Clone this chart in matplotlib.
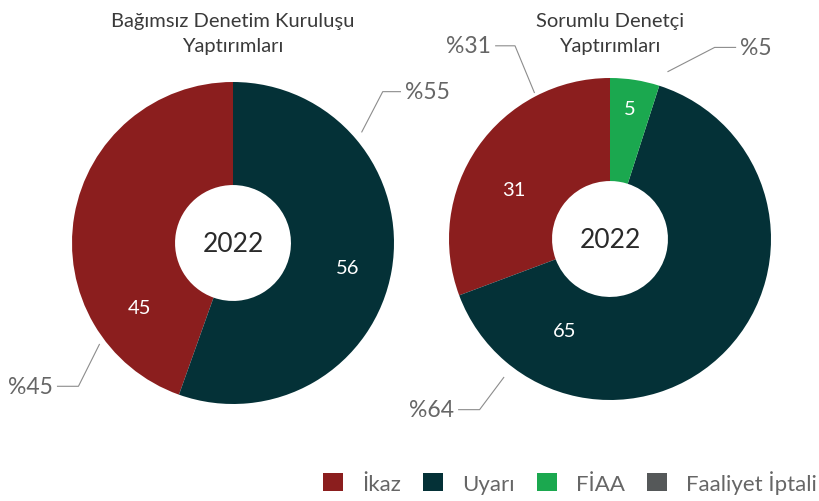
import matplotlib
matplotlib.use("Agg")
import matplotlib.pyplot as plt
from matplotlib.patches import Patch

plt.rcParams['font.family'] = ['Lato', 'DejaVu Sans']

categories = ["İkaz", "Uyarı", "FİAA", "Faaliyet İptali"]
colors = ["#8b1e1e", "#043137", "#1ba84f", "#555859"]

kurulus_values = [45, 56, 0, 0]
denetci_values = [31, 65, 5, 0]
kurulus_pcts = ["%45", "%55"]
denetci_pcts = ["%31", "%64", "%5"]
year = "2022"

W, H = 819, 502
fig = plt.figure(figsize=(W / 100, H / 100), dpi=100)


def donut(cx, cy, r, values, title, pct_labels, pct_spots, val_spots):
    ax = fig.add_axes([(cx - r) / W, (H - cy - r) / H, 2 * r / W, 2 * r / H])
    ax.pie(values, colors=colors, startangle=90, counterclock=True,
           wedgeprops=dict(width=0.64, linewidth=0))
    ax.set_xlim(-1, 1)
    ax.set_ylim(-1, 1)
    ax.set_aspect("equal")
    ax.text(0, 0, year, ha="center", va="center", fontsize=19, color="#2a2a2a")
    # value labels inside the wedges
    shown = [v for v in values if v > 0]
    for v, (x, y) in zip(shown, val_spots):
        ax.text(x, y, str(v), ha="center", va="center", fontsize=14.5, color="white")
    # percentage callouts
    for lab, (anchor, elbow, end, side) in zip(pct_labels, pct_spots):
        ax.plot([anchor[0], elbow[0], end[0]], [anchor[1], elbow[1], end[1]],
                color="#8c8c8c", lw=0.8, clip_on=False)
        tx = end[0] + (0.03 if side == "left" else -0.03)
        ax.text(tx, end[1], lab, ha=side, va="center", fontsize=16.5, color="#666666",
                clip_on=False)
    fig.text(cx / W, 1 - 34 / H, title, ha="center", va="center", fontsize=14.5,
             color="#3a3a3a", linespacing=1.6)


donut(233, 244, 161, kurulus_values, "Bağımsız Denetim Kuruluşu\nYaptırımları",
      kurulus_pcts,
      [((-0.83, -0.63), (-0.96, -0.89), (-1.09, -0.89), "right"),
       ((0.80, 0.69), (0.93, 0.94), (1.04, 0.94), "left")],
      [(-0.58, -0.40), (0.71, -0.15)])

donut(610, 240, 161, denetci_values, "Sorumlu Denetçi\nYaptırımları",
      denetci_pcts,
      [((-0.47, 0.91), (-0.59, 1.20), (-0.71, 1.20), "right"),
       ((-0.66, -0.86), (-0.81, -1.06), (-0.94, -1.06), "right"),
       ((0.36, 1.04), (0.65, 1.19), (0.78, 1.19), "left")],
      [(-0.60, 0.31), (-0.28, -0.57), (0.12, 0.81)])

handles = [Patch(facecolor=c, edgecolor="none") for c in colors]
fig.legend(handles, categories, loc="center right", bbox_to_anchor=(1.022, 1 - 483 / H),
           ncol=4, frameon=False, fontsize=16, handlelength=0.9, handleheight=0.9,
           handletextpad=0.85, columnspacing=1.0, labelcolor="#666666")

fig.savefig("out.png", dpi=100)
